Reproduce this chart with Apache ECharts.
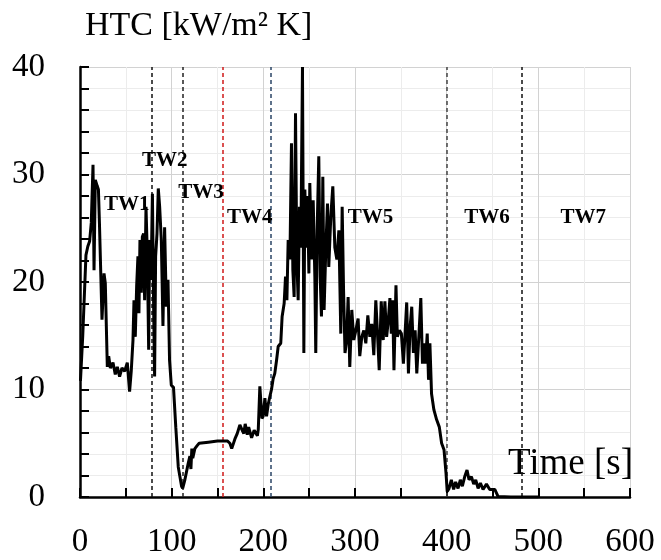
<!DOCTYPE html>
<html>
<head>
<meta charset="utf-8">
<script src="https://cdn.jsdelivr.net/npm/echarts@6/dist/echarts.min.js"></script>
<style>html,body{margin:0;padding:0;background:#fff}#c{width:661px;height:560px}</style>
</head>
<body>
<div id="c"></div>
<script>
// Time [s]
var timeS = [0.5,3,6.5,8.5,10.5,12.3,14.2,15.3,16.7,18.9,20.1,21.2,24,26.2,27.6,29.8,31.3,33.1,36,38.5,40.7,43.2,45.8,48.7,51.6,54.1,55.9,57.8,58.9,60.3,61.8,63.2,64.3,65.4,66.9,68,69.4,70.5,72,73.5,74.9,76,77.5,79,80.4,81.4,82.5,84,85.4,86.9,88.7,90.5,92.3,94.2,96,97.7,99.6,102,104.5,107.2,110.8,112,114.4,118,119.9,121,122,123,125.3,128,130,140,150,155.5,161,163.5,165.5,167,169,171.5,174.4,176.2,177.5,178.7,180.2,182.5,184,185.5,187.2,188.5,190,191.5,193.5,194.5,196.2,197.3,198.5,199.8,201.7,203.5,205.3,207,208.9,210.7,212.5,214.4,216.2,219,220.5,222.7,224.2,225.7,227.1,229,230.7,232.2,233.6,235.1,236.5,238,239.4,240.9,242.7,244.2,245.3,247.1,248.2,249.7,250.7,252.6,254.4,256.2,257.2,258.7,260.5,262,263.4,264.9,266.3,268.2,270,271.4,273.6,275.8,278,280.2,282.4,284.5,286,287.5,289.1,290.8,292.5,294.3,296.5,298.7,300.9,303.4,305.2,307.4,309.6,311.8,314,316.2,318.3,320.5,322.7,324.2,326.4,328.6,330.8,332.6,334.5,336.3,338.1,339.6,341,342.5,344.7,346.2,348.4,350.6,352.8,354.6,356.4,358.3,360.1,361.9,363.7,365.6,367.4,370,371.8,373.6,375.5,376.9,378.8,380.2,381.7,383.5,386.1,389,392,394.5,397.1,399.3,400.6,402.6,405.1,407.6,409.8,412.4,414.9,417.1,419.7,422.2,424.4,427,429.5,431.7,434.3,436.8,439.7,443.4,447,450,452.5,456,470,500];
// HTC [kW/m2 K]
var htc = [10.8,15,22.5,23.3,23.8,25.5,30.9,21.1,29.5,28.9,28.6,25.5,16.5,20.8,19.9,12.1,13.1,12.0,12.5,11.4,12.1,11.2,12.0,11.7,12.5,9.8,11.7,14.6,18.3,14.9,19.6,22.4,17.1,23.9,19.0,24.2,24.5,18.3,27.0,22.4,13.7,23.9,20.2,28.2,17.1,11.2,22.4,24.5,28.7,27.0,23.9,15.9,25.1,17.7,20.2,12.7,10.4,10.2,6.5,2.8,1.0,0.8,1.6,3.1,3.8,2.6,4.5,3.6,4.5,4.8,5.0,5.1,5.2,5.2,5.2,5.0,4.5,4.6,5.4,5.9,6.7,6.7,6.1,5.9,6.8,5.8,6.5,6.4,5.5,5.6,6.2,6.3,5.7,6.3,10.3,10.3,7.3,7.5,9.2,7.5,8.6,9.3,10.0,11.0,11.5,12.7,14.0,14.3,16.8,18.0,20.5,18.3,23.9,22.1,32.9,21.1,18.6,35.7,22.1,18.3,27.0,23.2,40,13.4,28.6,23.2,28.0,20.8,29.2,22.1,27.6,20.5,13.4,24.8,31.7,20.5,16.8,29.8,17.4,23.2,27.3,21.4,26.1,28.9,23.2,22.1,24.8,15.2,27.0,19.3,13.4,14.5,18.6,12.1,17.4,14.6,15.5,16.6,13.1,14.9,15.5,14.3,16.9,14.9,16.1,13.2,18.3,15.8,11.8,18.2,14.6,18.2,14.9,16.4,18.5,15.2,18.3,11.8,19.7,14.9,15.5,15.2,12.4,15.2,18.1,11.5,15.8,17.7,13.4,15.5,11.5,15.5,18.5,12.4,14.3,12.4,15.2,10.9,14.3,9.6,8.1,7.2,6.5,5.0,4.4,2.2,0.5,0.8,1.6,0.7,1.4,0.8,1.6,1.0,1.9,2.5,1.6,1.9,1.2,1.6,0.8,1.3,0.7,1.2,0.7,0.7,0.7,0.05,0,0];
// Time-window boundaries [s] and their colours
var boundaryTimes = [78, 112, 156, 208, 400, 482];
var boundaryColors = ['#111111', '#222222', '#d01818', '#2a4466', '#444444', '#111111'];
// Time-window labels and their anchor (time, HTC)
var twNames = ['TW1','TW2','TW3','TW4','TW5','TW6','TW7'];
var twTime = [51, 92.5, 132, 185.3, 317, 444, 549];
var twHtc = [27.2, 31.3, 28.3, 26.0, 26.0, 26.0, 26.0];
// Axis tick settings
var xTicks = {min: 0, max: 600, interval: 100};
var yTicks = {min: 0, max: 40, interval: 10};

var serif = '"Liberation Serif","Times New Roman",serif';
var chart = echarts.init(document.getElementById('c'), null, {renderer: 'canvas'});
var lineData = timeS.map(function (t, i) { return [t, htc[i]]; });
var twData = twNames.map(function (n, i) { return {name: n, value: [twTime[i], twHtc[i]]}; });
var mlData = boundaryTimes.map(function (t, i) {
  return {xAxis: t, lineStyle: {color: boundaryColors[i], type: [4, 3], width: 1.5}};
});

chart.setOption({
  animation: false,
  backgroundColor: '#ffffff',
  grid: {left: 80, right: 31, top: 67, bottom: 63, containLabel: false},
  xAxis: {
    type: 'value', min: xTicks.min, max: xTicks.max, interval: xTicks.interval,
    name: 'Time [s]', nameLocation: 'end', nameGap: 3,
    nameTextStyle: {fontFamily: serif, fontSize: 37, color: '#000', align: 'right', verticalAlign: 'bottom', padding: [0, 0, 14, 0]},
    axisLine: {show: true, lineStyle: {color: '#000', width: 2.5}},
    axisTick: {show: true, inside: true, length: 9, lineStyle: {color: '#000', width: 2}},
    minorTick: {show: true, splitNumber: 2, length: 9, lineStyle: {color: '#000', width: 2}},
    axisLabel: {fontFamily: serif, fontSize: 33, color: '#000', margin: 29},
    splitLine: {show: true, lineStyle: {color: '#d2d2d2', width: 1}},
    minorSplitLine: {show: true, lineStyle: {color: '#ececec', width: 1}}
  },
  yAxis: {
    type: 'value', min: yTicks.min, max: yTicks.max, interval: yTicks.interval,
    name: 'HTC [kW/m² K]', nameLocation: 'end', nameGap: 24,
    nameTextStyle: {fontFamily: serif, fontSize: 34, color: '#000', align: 'left', padding: [0, 0, 0, 5]},
    axisLine: {show: true, lineStyle: {color: '#000', width: 2.5}},
    axisTick: {show: true, inside: true, length: 9, lineStyle: {color: '#000', width: 2}},
    minorTick: {show: true, splitNumber: 5, length: 9, lineStyle: {color: '#000', width: 2}},
    axisLabel: {fontFamily: serif, fontSize: 33, color: '#000', margin: 35},
    splitLine: {show: true, lineStyle: {color: '#d2d2d2', width: 1}},
    minorSplitLine: {show: true, lineStyle: {color: '#ececec', width: 1}}
  },
  series: [
    {
      type: 'line', data: lineData, showSymbol: false, symbol: 'none',
      lineStyle: {color: '#000', width: 3}, z: 3,
      markLine: {silent: true, symbol: ['none', 'none'], label: {show: false}, data: mlData, z: 2}
    },
    {
      type: 'scatter', data: twData, symbolSize: 1, itemStyle: {color: 'transparent', opacity: 1}, z: 5,
      label: {show: true, position: 'inside', formatter: '{b}', fontFamily: serif, fontWeight: 'bold', fontSize: 21, color: '#000', opacity: 1}
    }
  ]
});
</script>
</body>
</html>
